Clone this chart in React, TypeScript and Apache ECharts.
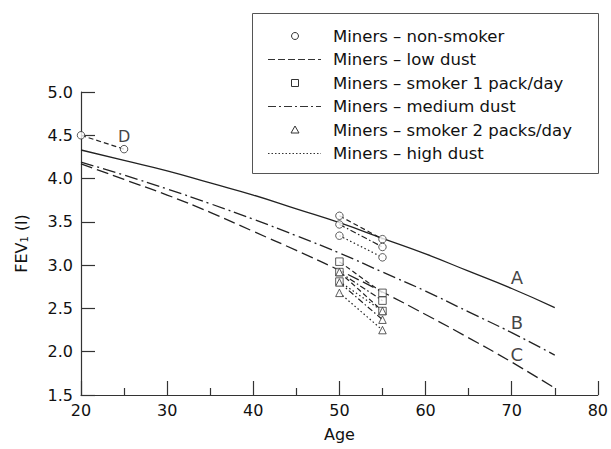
import { useEffect, useRef } from 'react';
import * as echarts from 'echarts';

// ---- data ----
const curveAges = [20, 25, 30, 35, 40, 45, 50, 55, 60, 65, 70, 75];
const curveA = [4.33, 4.21, 4.09, 3.95, 3.81, 3.65, 3.49, 3.31, 3.13, 2.93, 2.73, 2.51];
const curveB = [4.19, 4.04, 3.88, 3.71, 3.53, 3.34, 3.14, 2.92, 2.70, 2.46, 2.22, 1.96];
const curveC = [4.17, 3.99, 3.81, 3.61, 3.39, 3.17, 2.94, 2.69, 2.43, 2.16, 1.88, 1.58];

const followAges = [50, 55];
const nonSmokerLow = [3.57, 3.30];
const nonSmokerMedium = [3.47, 3.21];
const nonSmokerHigh = [3.34, 3.09];
const smoker1Low = [3.04, 2.68];
const smoker1Medium = [2.92, 2.59];
const smoker1High = [2.81, 2.47];
const smoker2Low = [2.92, 2.47];
const smoker2Medium = [2.80, 2.37];
const smoker2High = [2.68, 2.25];

const youngAges = [20, 25];
const youngNonSmoker = [4.50, 4.34];

const annotationTexts = ['A', 'B', 'C', 'D'];
const annotationAges = [70.6, 70.6, 70.6, 25];
const annotationValues = [2.86, 2.34, 1.97, 4.49];

const legendLabels = [
  'Miners – non-smoker',
  'Miners – low dust',
  'Miners – smoker 1 pack/day',
  'Miners – medium dust',
  'Miners – smoker 2 packs/day',
  'Miners – high dust',
];
const legendKinds = ['circle', 'dash', 'square', 'dashdot', 'triangle', 'dot'];

const xTickMin = 20;
const xTickMax = 80;
const yTickMin = 1.5;
const yTickMax = 5.0;

// ---- styles ----
const FONT = 'DejaVu Sans';
const INK = '#222';
const DASH_SHORT = [5, 3];
const DASHDOT_SHORT = [6, 2.5, 1.5, 2.5];
const DOT = [1.5, 2.5];

const pair = (ages: number[], vals: number[]) => ages.map((a, i) => [a, vals[i]]);

function segment(name: string, data: number[][], dash: number[]) {
  return {
    type: 'line',
    name,
    data,
    symbol: 'none',
    silent: true,
    z: 2,
    lineStyle: { color: INK, width: 1.2, type: dash },
  };
}

function markers(name: string, data: number[][], symbol: string) {
  return {
    type: 'scatter',
    name,
    data,
    symbol,
    symbolSize: 7.5,
    z: 4,
    silent: true,
    itemStyle: { color: '#fff', borderColor: '#333', borderWidth: 1 },
  };
}

function curve(name: string, vals: number[], dash: any, width = 1.3) {
  return {
    type: 'line',
    name,
    data: pair(curveAges, vals),
    smooth: true,
    symbol: 'none',
    silent: true,
    z: 1,
    lineStyle: { color: INK, width, type: dash },
  };
}

function buildLegend() {
  const children: any[] = [];
  children.push({
    type: 'rect',
    shape: { x: 252.5, y: 13.5, width: 346, height: 160 },
    style: { fill: '#fff', stroke: '#555', lineWidth: 1 },
  });
  const sym = { fill: '#fff', stroke: '#333', lineWidth: 1 };
  legendKinds.forEach((k, i) => {
    const y = 36 + i * 23.5;
    if (k === 'circle') {
      children.push({ type: 'circle', shape: { cx: 295, cy: y, r: 3.5 }, style: sym });
    } else if (k === 'square') {
      children.push({ type: 'rect', shape: { x: 291.5, y: y - 3.5, width: 7, height: 7 }, style: sym });
    } else if (k === 'triangle') {
      children.push({ type: 'polygon', shape: { points: [[295, y - 4], [291, y + 3], [299, y + 3]] }, style: sym });
    } else {
      const dash = k === 'dash' ? [7, 3] : k === 'dashdot' ? [8, 3, 2, 3] : [1.5, 2];
      children.push({
        type: 'line',
        shape: { x1: 268, y1: y, x2: 321, y2: y },
        style: { stroke: '#333', lineWidth: 1.2, lineDash: dash },
      });
    }
    children.push({
      type: 'text',
      x: 333,
      y,
      style: {
        text: legendLabels[i],
        fontSize: 16.5,
        fontFamily: FONT,
        fill: '#111',
        align: 'left',
        verticalAlign: 'middle',
      },
    });
  });
  return [{ type: 'group', z: 10, children }];
}

export default function App() {
  const ref = useRef<HTMLDivElement>(null);

  useEffect(() => {
    if (!ref.current) return;
    const chart = echarts.init(ref.current, undefined, { renderer: 'svg' });

    const series: any[] = [
      curve('A', curveA, 'solid'),
      curve('B', curveB, [13, 4, 2, 4]),
      curve('C', curveC, [12, 5]),
      segment('Miners – non-smoker, low dust', pair(followAges, nonSmokerLow), DASH_SHORT),
      segment('Miners – non-smoker, medium dust', pair(followAges, nonSmokerMedium), DASHDOT_SHORT),
      segment('Miners – non-smoker, high dust', pair(followAges, nonSmokerHigh), DOT),
      segment('Miners – smoker 1 pack/day, low dust', pair(followAges, smoker1Low), DASH_SHORT),
      segment('Miners – smoker 1 pack/day, medium dust', pair(followAges, smoker1Medium), DASHDOT_SHORT),
      segment('Miners – smoker 1 pack/day, high dust', pair(followAges, smoker1High), DOT),
      segment('Miners – smoker 2 packs/day, low dust', pair(followAges, smoker2Low), DASH_SHORT),
      segment('Miners – smoker 2 packs/day, medium dust', pair(followAges, smoker2Medium), DASHDOT_SHORT),
      segment('Miners – smoker 2 packs/day, high dust', pair(followAges, smoker2High), DOT),
      segment('D', pair(youngAges, youngNonSmoker), DASH_SHORT),
      markers(
        'Miners – non-smoker',
        [
          ...pair(youngAges, youngNonSmoker),
          ...pair(followAges, nonSmokerLow),
          ...pair(followAges, nonSmokerMedium),
          ...pair(followAges, nonSmokerHigh),
        ],
        'circle'
      ),
      markers(
        'Miners – smoker 1 pack/day',
        [...pair(followAges, smoker1Low), ...pair(followAges, smoker1Medium), ...pair(followAges, smoker1High)],
        'rect'
      ),
      markers(
        'Miners – smoker 2 packs/day',
        [...pair(followAges, smoker2Low), ...pair(followAges, smoker2Medium), ...pair(followAges, smoker2High)],
        'triangle'
      ),
      {
        type: 'scatter',
        name: 'labels',
        silent: true,
        symbolSize: 1,
        z: 5,
        itemStyle: { color: 'transparent' },
        data: annotationTexts.map((t, i) => ({
          name: t,
          value: [annotationAges[i], annotationValues[i]],
          label: { fontSize: t === 'D' ? 16 : 18 },
        })),
        label: {
          show: true,
          position: 'inside',
          formatter: '{b}',
          fontFamily: FONT,
          fontSize: 18,
          color: '#111',
        },
      },
    ];

    chart.setOption({
      animation: false,
      textStyle: { fontFamily: FONT },
      grid: { left: 81, right: 12, top: 92, bottom: 54, containLabel: false },
      xAxis: {
        type: 'value',
        min: xTickMin,
        max: xTickMax,
        interval: 10,
        name: 'Age',
        nameLocation: 'middle',
        nameGap: 31,
        nameTextStyle: { fontFamily: FONT, fontSize: 16, color: '#111' },
        axisLine: { onZero: false, lineStyle: { color: '#333', width: 1.2 } },
        axisTick: { inside: true, length: 14, lineStyle: { color: '#333', width: 1.2 } },
        minorTick: { show: true, splitNumber: 2, length: 7, lineStyle: { color: '#333', width: 1.2 } },
        axisLabel: { margin: 7, fontFamily: FONT, fontSize: 16, color: '#111' },
        splitLine: { show: false },
      },
      yAxis: {
        type: 'value',
        min: yTickMin,
        max: yTickMax,
        interval: 0.5,
        name: 'FEV{sub|1} (l)',
        nameLocation: 'middle',
        nameRotate: 90,
        nameGap: 52,
        nameTextStyle: {
          fontFamily: FONT,
          fontSize: 16,
          color: '#111',
          lineHeight: 16,
          rich: { sub: { fontFamily: FONT, fontSize: 10, lineHeight: 8, verticalAlign: 'bottom', color: '#111' } },
        },
        axisLine: { show: true, onZero: false, lineStyle: { color: '#333', width: 1.2 } },
        axisTick: { show: true, inside: true, length: 14, lineStyle: { color: '#333', width: 1.2 } },
        axisLabel: {
          margin: 8,
          fontFamily: FONT,
          fontSize: 16,
          color: '#111',
          formatter: (v: number) => v.toFixed(1),
        },
        splitLine: { show: false },
      },
      graphic: buildLegend(),
      series,
    });

    return () => chart.dispose();
  }, []);

  return (
    <div
      ref={ref}
      style={{ position: 'fixed', left: 0, top: 0, width: 611, height: 449, background: '#fff' }}
    />
  );
}
